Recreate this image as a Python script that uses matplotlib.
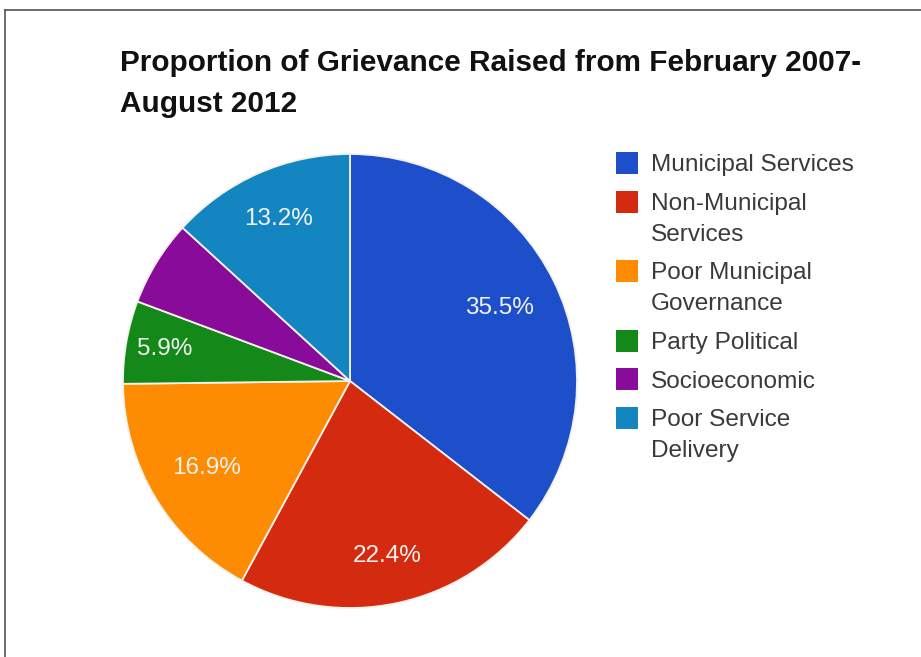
import numpy as np
import matplotlib
matplotlib.use("Agg")
import matplotlib.pyplot as plt
from matplotlib.lines import Line2D
from matplotlib.patches import Rectangle

plt.rcParams['font.family'] = ['Liberation Sans', 'DejaVu Sans']

title = "Proportion of Grievance Raised from February 2007-\nAugust 2012"
categories = ["Municipal Services", "Non-Municipal Services", "Poor Municipal Governance",
              "Party Political", "Socioeconomic", "Poor Service Delivery"]
legend_lines = [["Municipal Services"], ["Non-Municipal", "Services"],
                ["Poor Municipal", "Governance"], ["Party Political"],
                ["Socioeconomic"], ["Poor Service", "Delivery"]]
values = [35.5, 22.4, 16.9, 5.9, 6.1, 13.2]
show_label = [True, True, True, True, False, True]
colors = ["#1d4fca", "#d42b10", "#fd8c02", "#14891a", "#880c99", "#1386c2"]

# radial placement of the percentage text inside each wedge (fraction of radius)
label_radius = [0.735, 0.79, 0.74, 0.83, 0.75, 0.78]

W, H = 921, 657
fig = plt.figure(figsize=(W / 100, H / 100), dpi=100)
fig.patch.set_facecolor("white")

# pie axes: centre (350, 381) px, radius 227 px
cx, cy, r = 350, 381, 227
ax = fig.add_axes([(cx - r) / W, (H - cy - r) / H, 2 * r / W, 2 * r / H])
wedges, _ = ax.pie(values, colors=colors, startangle=90, counterclock=False,
                   radius=1.0, wedgeprops=dict(edgecolor="#f4f1ea", linewidth=1.3))
ax.set_xlim(-1, 1)
ax.set_ylim(-1, 1)
ax.set_aspect("equal")
ax.axis("off")

for w, v, show, rr in zip(wedges, values, show_label, label_radius):
    if not show:
        continue
    ang = np.deg2rad((w.theta1 + w.theta2) / 2)
    ax.text(rr * np.cos(ang), rr * np.sin(ang), f"{v:.1f}%", ha="center", va="center",
            color="#f2f2f2", fontsize=17.5)

# title
fig.text(120 / W, 1 - 49 / H, title, ha="left", va="top", fontsize=21.4,
         fontweight="bold", color="#111111", linespacing=1.58)

# legend
sq = 22
x_sq = 616
x_txt = 651
y = 163
for lines, col in zip(legend_lines, colors):
    fig.patches.append(Rectangle(((x_sq) / W, 1 - (y + sq / 2) / H), sq / W, sq / H,
                                 transform=fig.transFigure, facecolor=col,
                                 edgecolor="none"))
    for i, line in enumerate(lines):
        fig.text(x_txt / W, 1 - (y + i * 31) / H, line, ha="left", va="center_baseline",
                 fontsize=17.6, color="#3a3a3a")
    y += 31 * (len(lines) - 1) + 38.5

# frame lines on the top and left edges
fig.lines.append(Line2D([5 / W, 1], [1 - 9.5 / H, 1 - 9.5 / H], transform=fig.transFigure,
                        color="#555555", linewidth=1.2))
fig.lines.append(Line2D([5 / W, 5 / W], [0, 1 - 9.5 / H], transform=fig.transFigure,
                        color="#555555", linewidth=1.2))

fig.savefig("out.png", dpi=100, facecolor="white")
